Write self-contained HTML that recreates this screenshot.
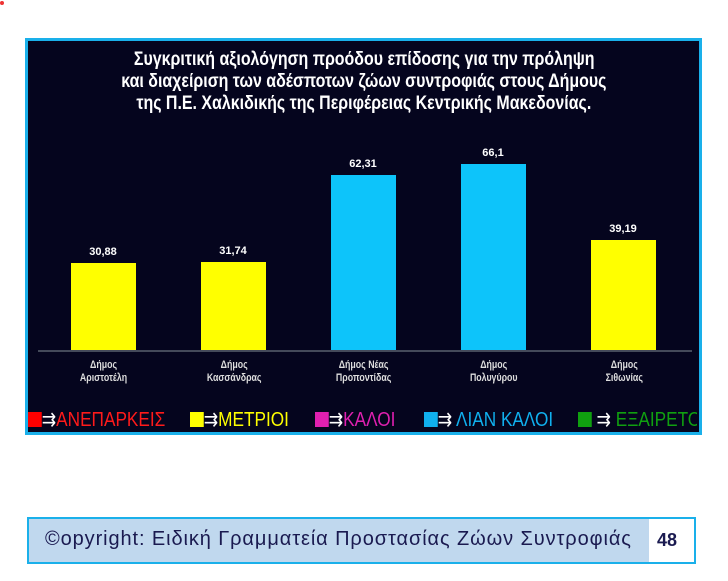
<!DOCTYPE html>
<html><head><meta charset="utf-8"><style>
body{margin:0;width:728px;height:581px;background:#fff;position:relative;overflow:hidden;font-family:"Liberation Sans",sans-serif}
.panel{position:absolute;left:25px;top:38px;width:671px;height:391px;background:#05051e;border:3px solid #1ab0ea}
.t{position:absolute;left:0;width:728px;text-align:center;color:#fff;font-weight:bold;font-size:19px;white-space:nowrap}
.t span{display:inline-block;transform:scaleX(0.84)}
.bar{position:absolute;width:65px}
.v{position:absolute;width:66px;text-align:center;color:#fff;font-weight:bold;font-size:11px}
.c{position:absolute;width:100px;text-align:center;color:#ddd;font-size:11px;line-height:13px;font-weight:bold}
.c span{display:inline-block;transform:scaleX(0.8)}
.lg{position:absolute;top:408px;font-size:20px;white-space:nowrap;line-height:24px}
.lg>span{display:inline-block;transform:scaleX(0.86);transform-origin:left}
.sq{display:inline-block;width:16px;height:15px;vertical-align:-1px}
</style></head><body>
<div style="position:absolute;left:0;top:1px;width:4px;height:4px;background:#e33;border-radius:2px"></div>
<div class="panel"></div>
<div class="t" style="top:49px"><span>Συγκριτική αξιολόγηση προόδου επίδοσης για την πρόληψη</span></div>
<div class="t" style="top:71px"><span>και διαχείριση των αδέσποτων ζώων συντροφιάς στους Δήμους</span></div>
<div class="t" style="top:93px"><span>της Π.Ε. Χαλκιδικής της Περιφέρειας Κεντρικής Μακεδονίας.</span></div>
<div style="position:absolute;left:38px;top:350px;width:654px;height:2px;background:#444a5a"></div>
<div class="bar" style="left:71px;top:263px;height:87px;background:#ffff00"></div>
<div class="bar" style="left:201px;top:262px;height:88px;background:#ffff00"></div>
<div class="bar" style="left:331px;top:175px;height:175px;background:#0dc4fa"></div>
<div class="bar" style="left:461px;top:164px;height:186px;background:#0dc4fa"></div>
<div class="bar" style="left:591px;top:240px;height:110px;background:#ffff00"></div>
<div class="v" style="left:70px;top:246px">30,88</div>
<div class="v" style="left:200px;top:245px">31,74</div>
<div class="v" style="left:330px;top:158px">62,31</div>
<div class="v" style="left:460px;top:147px">66,1</div>
<div class="v" style="left:590px;top:223px">39,19</div>
<div class="c" style="left:54px;top:359px"><span>Δήμος<br>Αριστοτέλη</span></div>
<div class="c" style="left:184px;top:359px"><span>Δήμος<br>Κασσάνδρας</span></div>
<div class="c" style="left:314px;top:359px"><span>Δήμος Νέας<br>Προποντίδας</span></div>
<div class="c" style="left:444px;top:359px"><span>Δήμος<br>Πολυγύρου</span></div>
<div class="c" style="left:574px;top:359px"><span>Δήμος<br>Σιθωνίας</span></div>
<div class="lg" style="left:28px;color:#ff1a1a"><span><i class="sq" style="background:#ff0000"></i><span style="color:#fff">⇉</span>ΑΝΕΠΑΡΚΕΙΣ</span></div>
<div class="lg" style="left:190px;color:#ffff00"><span><i class="sq" style="background:#ffff00"></i><span style="color:#fff">⇉</span>ΜΕΤΡΙΟΙ</span></div>
<div class="lg" style="left:315px;color:#e020b0"><span><i class="sq" style="background:#e020b0"></i><span style="color:#fff">⇉</span>ΚΑΛΟΙ</span></div>
<div class="lg" style="left:424px;color:#10b0ee"><span><i class="sq" style="background:#10b0ee"></i><span style="color:#fff">⇉</span> ΛΙΑΝ ΚΑΛΟΙ</span></div>
<div class="lg" style="left:578px;width:119px;overflow:hidden;color:#10a010"><span><i class="sq" style="background:#10a010"></i><span style="color:#fff"> ⇉</span> ΕΞΑΙΡΕΤΟΙ</span></div>
<div style="position:absolute;left:27px;top:517px;width:620px;height:43px;background:#c0d8ee;border:2px solid #1ab0ea"></div>
<div style="position:absolute;left:45px;top:528px;font-size:20px;letter-spacing:0.9px;color:#1a1a50;white-space:nowrap">©opyright: Ειδική Γραμματεία Προστασίας Ζώων Συντροφιάς</div>
<div style="position:absolute;left:649px;top:517px;width:45px;height:43px;background:#fff;border:2px solid #1ab0ea;border-left:none"></div>
<div style="position:absolute;left:657px;top:530px;font-size:18px;font-weight:bold;color:#1a1a50">48</div>
</body></html>
